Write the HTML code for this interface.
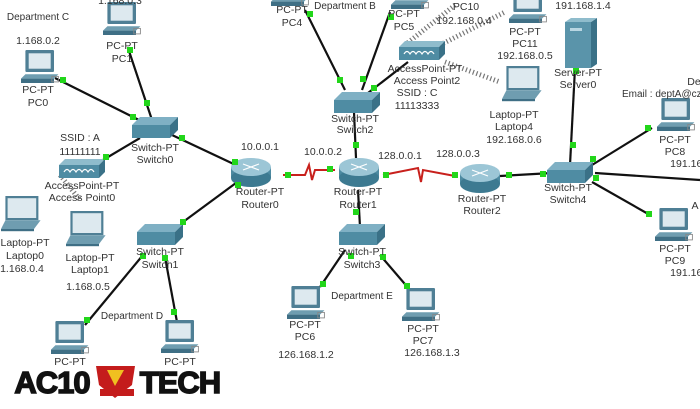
<!DOCTYPE html>
<html><head><meta charset="utf-8"><style>
html,body{margin:0;padding:0;background:#fff;}
svg{display:block;}
text{font-family:"Liberation Sans",sans-serif;font-size:10.5px;fill:#333;text-anchor:middle;}
</style></head><body>
<svg width="700" height="409" viewBox="0 0 700 409" xmlns="http://www.w3.org/2000/svg">
<defs>
<g id="pc0">
<rect x="4" y="0" width="26" height="20" rx="1" fill="#4f7f95"/>
<rect x="7" y="3" width="20" height="14" fill="#dde9ef"/>
<polygon points="0,26 30,26 34,22 4,22" fill="#6f9db0"/>
<rect x="0" y="26" width="30" height="4" fill="#3f6f85"/>
<rect x="28" y="24" width="6" height="5" fill="none" stroke="#888" stroke-width="0.8"/>
</g>
<g id="pc"><use href="#pc0" transform="scale(1.1)"/></g>
<g id="lap0">
<rect x="4" y="0" width="30" height="22" fill="#4f7f95"/>
<rect x="6" y="2" width="26" height="18" fill="#dde9ef"/>
<polygon points="0,30 30,30 36,22 4,22" fill="#6f9db0"/>
<rect x="0" y="30" width="30" height="2" fill="#3f6f85"/>
</g>
<g id="lap"><use href="#lap0" transform="scale(1.1)"/></g>
<g id="sw">
<polygon points="0,8 8,0 46,0 38,8" fill="#7fb0c4"/>
<rect x="0" y="8" width="38" height="13" fill="#4f8ca3"/>
<polygon points="38,8 46,0 46,13 38,21" fill="#3a7187"/>
</g>
<g id="rt">
<rect x="-20" y="0" width="40" height="11" fill="#4d8aa1"/>
<ellipse cx="0" cy="11" rx="20" ry="9" fill="#3d7a91"/>
<ellipse cx="0" cy="0" rx="20" ry="9" fill="#9cc6d6"/>
<path d="M-8,-3 L8,3 M-8,3 L8,-3" stroke="#fff" stroke-width="1.2"/>
</g>
<g id="ap">
<polygon points="0,6 6,0 46,0 40,6" fill="#8fbccc"/>
<rect x="0" y="6" width="40" height="13" fill="#4f8ca3"/>
<polygon points="40,6 46,0 46,13 40,19" fill="#3a7187"/>
<path d="M5,13 q3,-5 6,0 q3,-5 6,0 q3,-5 6,0 q3,-5 6,0 q3,-5 6,0" stroke="#fff" fill="none" stroke-width="1.2"/>
</g>
</defs>

<g stroke="#555" stroke-width="5" stroke-dasharray="1.2 2.5" fill="none" opacity="0.8">
<line x1="405" y1="45" x2="455" y2="5"/>
<line x1="440" y1="45" x2="505" y2="12"/>
<line x1="445" y1="62" x2="500" y2="82"/>
<line x1="60" y1="175" x2="80" y2="200"/>
</g>

<g stroke="#111" stroke-width="2.2" fill="none">
<line x1="55" y1="78" x2="145" y2="123"/>
<line x1="128" y1="48" x2="152" y2="120"/>
<line x1="172" y1="135" x2="240" y2="167"/>
<line x1="103" y1="160" x2="140" y2="138"/>
<line x1="183" y1="222" x2="240" y2="180"/>
<line x1="143" y1="255" x2="85" y2="325"/>
<line x1="165" y1="257" x2="177" y2="322"/>
<line x1="356" y1="158" x2="354" y2="112"/>
<line x1="345" y1="90" x2="305" y2="10"/>
<line x1="362" y1="90" x2="390" y2="12"/>
<line x1="368" y1="93" x2="408" y2="62"/>
<line x1="358" y1="190" x2="360" y2="227"/>
<line x1="345" y1="250" x2="320" y2="287"/>
<line x1="380" y1="255" x2="410" y2="290"/>
<line x1="500" y1="176" x2="552" y2="173"/>
<line x1="570" y1="165" x2="575" y2="68"/>
<line x1="592" y1="165" x2="652" y2="128"/>
<line x1="595" y1="173" x2="700" y2="180"/>
<line x1="592" y1="182" x2="650" y2="215"/>
</g>
<g stroke="#c8201c" stroke-width="2" fill="none">
<polyline points="283,175 305,175 309,165 312,180 315,170 335,170"/>
<polyline points="383,175 418,168 421,182 423,170 455,176"/>
</g>

<use href="#pc" x="103" y="2"/>
<use href="#pc" x="21" y="50"/>
<use href="#sw" x="132" y="117"/>
<use href="#ap" x="59" y="159"/>
<use href="#rt" x="251" y="167"/>
<use href="#rt" x="359" y="167"/>
<use href="#rt" x="480" y="173"/>
<use href="#sw" x="334" y="92"/>
<use href="#pc" x="271" y="-27"/>
<use href="#pc" x="391" y="-24"/>
<use href="#ap" x="399" y="41"/>
<use href="#pc" x="509" y="-10"/>
<use href="#lap" x="502" y="66"/>
<rect x="565" y="22" width="26" height="46" fill="#5a94aa"/>
<polygon points="591,22 597,18 597,64 591,68" fill="#3a7187"/>
<polygon points="565,22 571,18 597,18 591,22" fill="#8fbccc"/>
<rect x="570" y="28" width="12" height="3" fill="#b8d6e2"/>
<use href="#sw" x="547" y="162"/>
<use href="#pc" x="657" y="98"/>
<use href="#pc" x="655" y="208"/>
<use href="#sw" x="339" y="224"/>
<use href="#pc" x="287" y="286"/>
<use href="#pc" x="402" y="288"/>
<use href="#sw" x="137" y="224"/>
<use href="#lap" x="1" y="196"/>
<use href="#lap" x="66" y="211"/>
<use href="#pc" x="51" y="321"/>
<use href="#pc" x="161" y="320"/>

<g fill="#22d61a">
<rect x="60" y="77" width="6" height="6"/><rect x="127" y="47" width="6" height="6"/>
<rect x="144" y="100" width="6" height="6"/><rect x="130" y="114" width="6" height="6"/>
<rect x="179" y="135" width="6" height="6"/><rect x="232" y="159" width="6" height="6"/>
<rect x="103" y="154" width="6" height="6"/><rect x="235" y="182" width="6" height="6"/>
<rect x="180" y="219" width="6" height="6"/><rect x="140" y="253" width="6" height="6"/>
<rect x="162" y="255" width="6" height="6"/><rect x="84" y="317" width="6" height="6"/>
<rect x="171" y="309" width="6" height="6"/><rect x="285" y="172" width="6" height="6"/>
<rect x="327" y="166" width="6" height="6"/><rect x="353" y="142" width="6" height="6"/>
<rect x="307" y="11" width="6" height="6"/><rect x="337" y="77" width="6" height="6"/>
<rect x="388" y="14" width="6" height="6"/><rect x="360" y="76" width="6" height="6"/>
<rect x="371" y="85" width="6" height="6"/><rect x="383" y="172" width="6" height="6"/>
<rect x="452" y="172" width="6" height="6"/><rect x="506" y="172" width="6" height="6"/>
<rect x="540" y="171" width="6" height="6"/><rect x="570" y="142" width="6" height="6"/>
<rect x="573" y="68" width="6" height="6"/><rect x="590" y="156" width="6" height="6"/>
<rect x="645" y="125" width="6" height="6"/><rect x="593" y="175" width="6" height="6"/>
<rect x="646" y="211" width="6" height="6"/><rect x="353" y="209" width="6" height="6"/>
<rect x="348" y="253" width="6" height="6"/><rect x="380" y="254" width="6" height="6"/>
<rect x="320" y="281" width="6" height="6"/><rect x="404" y="283" width="6" height="6"/>
</g>

<text x="38" y="20" style="font-size:10px">Department C</text>
<text x="120" y="4">1.168.0.3</text>
<text x="38" y="44">1.168.0.2</text>
<text x="122" y="49">PC-PT</text><text x="122" y="62">PC1</text>
<text x="38" y="93">PC-PT</text><text x="38" y="106">PC0</text>
<text x="155" y="151">Switch-PT</text><text x="155" y="163">Switch0</text>
<text x="80" y="141">SSID : A</text><text x="80" y="155">11111111</text>
<text x="82" y="189">AccessPoint-PT</text><text x="82" y="201">Access Point0</text>
<text x="260" y="150">10.0.0.1</text><text x="323" y="155">10.0.0.2</text>
<text x="260" y="195">Router-PT</text><text x="260" y="208">Router0</text>
<text x="358" y="195">Router-PT</text><text x="358" y="208">Router1</text>
<text x="292" y="13">PC-PT</text><text x="292" y="26">PC4</text>
<text x="345" y="9" style="font-size:10px">Department B</text>
<text x="404" y="17">PC-PT</text><text x="404" y="30">PC5</text>
<text x="355" y="122">Switch-PT</text><text x="355" y="133">Switch2</text>
<text x="466" y="10">PC10</text><text x="464" y="24">192.168.0.4</text>
<text x="425" y="72">AccessPoint-PT</text><text x="427" y="84">Access Point2</text>
<text x="417" y="96">SSID : C</text><text x="417" y="109">11113333</text>
<text x="525" y="35">PC-PT</text><text x="525" y="47">PC11</text><text x="525" y="59">192.168.0.5</text>
<text x="514" y="118">Laptop-PT</text><text x="514" y="130">Laptop4</text><text x="514" y="143">192.168.0.6</text>
<text x="583" y="9">191.168.1.4</text>
<text x="578" y="76">Server-PT</text><text x="578" y="88">Server0</text>
<text x="694" y="85">De</text>
<text x="622" y="97" style="text-anchor:start;font-size:10px">Email : deptA@czs</text>
<text x="675" y="143">PC-PT</text><text x="675" y="155">PC8</text><text x="695" y="167">191.168.1.</text>
<text x="400" y="159">128.0.0.1</text><text x="458" y="157">128.0.0.3</text>
<text x="482" y="202">Router-PT</text><text x="482" y="214">Router2</text>
<text x="568" y="191">Switch-PT</text><text x="568" y="203">Switch4</text>
<text x="695" y="209">A</text>
<text x="675" y="252">PC-PT</text><text x="675" y="264">PC9</text><text x="695" y="276">191.168.1.</text>
<text x="362" y="255">Switch-PT</text><text x="362" y="268">Switch3</text>
<text x="362" y="299" style="font-size:10px">Department E</text>
<text x="305" y="328">PC-PT</text><text x="305" y="340">PC6</text><text x="306" y="358">126.168.1.2</text>
<text x="423" y="332">PC-PT</text><text x="423" y="344">PC7</text><text x="432" y="356">126.168.1.3</text>
<text x="160" y="255">Switch-PT</text><text x="160" y="268">Switch1</text>
<text x="25" y="246">Laptop-PT</text><text x="25" y="259">Laptop0</text><text x="22" y="272">1.168.0.4</text>
<text x="90" y="261">Laptop-PT</text><text x="90" y="273">Laptop1</text><text x="88" y="290">1.168.0.5</text>
<text x="132" y="319" style="font-size:10px">Department D</text>
<text x="70" y="365">PC-PT</text><text x="180" y="365">PC-PT</text>

<text x="52" y="393" style="font-weight:bold;font-size:31px;fill:#111;stroke:#111;stroke-width:1.5;letter-spacing:-1px">AC10</text>
<path d="M96,366 L135,366 L132,385 L115,398 L99,385 Z" fill="#c41c1c"/>
<path d="M107,370 L124,370 L115,386 Z" fill="#f0c020"/>
<rect x="100" y="389" width="34" height="7" fill="#c41c1c"/>
<text x="180" y="393" style="font-weight:bold;font-size:31px;fill:#111;stroke:#111;stroke-width:1.5;letter-spacing:-1px">TECH</text>
</svg>
</body></html>
